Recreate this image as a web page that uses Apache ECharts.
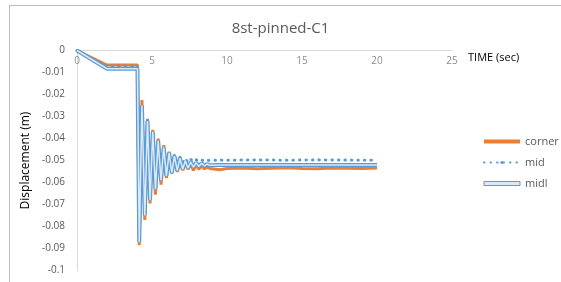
<!DOCTYPE html>
<html>
<head>
<meta charset="utf-8">
<script src="https://cdn.jsdelivr.net/npm/echarts@6/dist/echarts.min.js"></script>
<style>
  html, body { margin: 0; padding: 0; background: #fff; }
  #frame { position: absolute; left: 9px; top: 5px; width: 600px; height: 300px;
           border-left: 1px solid #bcbcbc; border-top: 1px solid #bcbcbc; }
  #main { position: absolute; left: 0; top: 0; width: 561px; height: 282px; }
</style>
</head>
<body>
<div id="frame"></div>
<div id="main"></div>
<script>
// time (sec)
var time = [0, 2, 4.03,
  4.15, 4.33, 4.52, 4.70, 4.87, 5.05, 5.23, 5.41, 5.6, 5.78, 5.96, 6.14, 6.32, 6.5,
  6.68, 6.86, 7.05, 7.22, 7.4, 7.58, 7.76, 7.94, 8.12, 8.3, 8.5, 8.67, 8.85,
  9.5, 10, 11, 12, 13, 14, 15, 16, 17, 18, 19, 20];

var corner = [0, -0.0066, -0.0066,
  -0.0885, -0.0225, -0.077, -0.031, -0.0695, -0.036, -0.0655, -0.040, -0.061, -0.043, -0.058, -0.046, -0.056, -0.048,
  -0.0552, -0.0495, -0.0545, -0.0505, -0.054, -0.0515, -0.0545, -0.052, -0.054, -0.0525, -0.0538, -0.053, -0.0536,
  -0.0542, -0.0536, -0.0534, -0.0537, -0.0535, -0.0533, -0.0536, -0.0537, -0.0534, -0.0535, -0.0536, -0.0534];

var mid = [0, -0.0071, -0.0071,
  -0.086, -0.0265, -0.074, -0.0316, -0.066, -0.037, -0.061, -0.0416, -0.058, -0.045, -0.055, -0.0465, -0.0535, -0.0475,
  -0.052, -0.0485, -0.051, -0.0492, -0.0508, -0.0495, -0.0505, -0.0497, -0.0503, -0.0498, -0.0502, -0.0498, -0.050,
  -0.0498, -0.0499, -0.0498, -0.0497, -0.0498, -0.0499, -0.0498, -0.0497, -0.0498, -0.0498, -0.0499, -0.0498];

var midl = [0, -0.0083, -0.0083,
  -0.087, -0.025, -0.075, -0.032, -0.068, -0.037, -0.063, -0.041, -0.059, -0.044, -0.057, -0.0465, -0.0555, -0.048,
  -0.0545, -0.049, -0.054, -0.050, -0.0535, -0.0507, -0.053, -0.051, -0.0527, -0.0513, -0.0525, -0.0516, -0.0522,
  -0.052, -0.0521, -0.052, -0.0521, -0.052, -0.052, -0.0521, -0.052, -0.0521, -0.052, -0.052, -0.0521];

function pairs(vals) {
  return time.map(function (t, i) { return [t, vals[i]]; });
}

var font = 'Open Sans';
var textGray = '#595959';

var myChart = echarts.init(document.getElementById('main'));
myChart.setOption({
  animation: false,
  title: {
    text: '8st-pinned-C1',
    left: 'center',
    top: 16,
    textStyle: { fontFamily: font, fontSize: 15, fontWeight: 'normal', color: textGray }
  },
  legend: {
    orient: 'vertical',
    left: 478,
    top: 131,
    itemWidth: 36,
    itemHeight: 4,
    itemGap: 10,
    textStyle: { fontFamily: font, fontSize: 11, color: textGray },
    data: [
      { name: 'corner', icon: 'rect', itemStyle: { color: '#ed7d31' } },
      'mid',
      { name: 'midl', icon: 'rect', itemStyle: { color: '#dce9f6', borderColor: '#5b9bd5', borderWidth: 1 } }
    ]
  },
  grid: { left: 77, right: 109, top: 50.5, bottom: 11.5 },
  xAxis: {
    type: 'value',
    position: 'top',
    min: 0, max: 25, interval: 5,
    name: 'TIME (sec)',
    nameLocation: 'end',
    nameGap: 16,
    nameTextStyle: { fontFamily: font, fontSize: 11, color: '#000', verticalAlign: 'top', padding: [2, 0, 0, 0] },
    axisLine: { lineStyle: { color: '#d9d9d9', width: 1 } },
    axisTick: { show: false },
    splitLine: { show: false },
    axisLabel: { inside: true, fontFamily: font, fontSize: 10, color: '#8c8c8c', margin: 6 }
  },
  yAxis: {
    type: 'value',
    min: -0.1, max: 0, interval: 0.01,
    name: 'Displacement (m)',
    nameLocation: 'middle',
    nameRotate: 90,
    nameGap: 45,
    nameTextStyle: { fontFamily: font, fontSize: 12, color: '#000' },
    axisLine: { show: true, lineStyle: { color: '#d9d9d9', width: 1 } },
    axisTick: { show: false },
    splitLine: { show: false },
    axisLabel: { fontFamily: font, fontSize: 10, color: textGray, margin: 12 }
  },
  series: [
    {
      name: 'corner', type: 'line', showSymbol: false, symbol: 'none',
      data: pairs(corner),
      lineStyle: { color: '#ed7d31', width: 3 },
      itemStyle: { color: '#ed7d31' }
    },
    {
      name: 'mid', type: 'line', showSymbol: false, symbol: 'none',
      data: pairs(mid),
      lineStyle: { color: '#5b9bd5', width: 3, type: [0.5, 6], cap: 'round' },
      itemStyle: { color: '#5b9bd5' }
    },
    {
      name: 'midl', type: 'line', showSymbol: false, symbol: 'none',
      data: pairs(midl),
      lineStyle: { color: '#5b9bd5', width: 4 },
      itemStyle: { color: '#5b9bd5' }
    },
    {
      // light inner stroke of the double line
      name: 'midl-inner', type: 'line', showSymbol: false, symbol: 'none',
      data: pairs(midl),
      lineStyle: { color: '#dce9f6', width: 1.5 },
      itemStyle: { color: '#dce9f6' }
    }
  ]
});
</script>
</body>
</html>
